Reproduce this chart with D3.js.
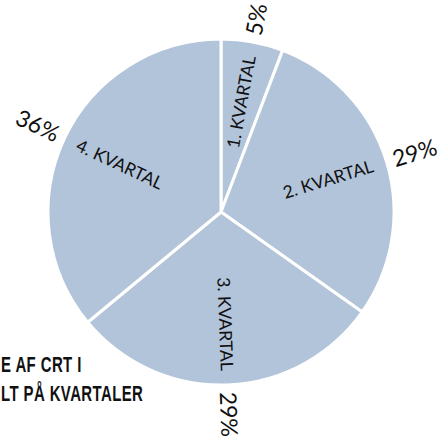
<!DOCTYPE html>
<html>
<head>
  <meta charset="utf-8">
  <script src="https://d3js.org/d3.v7.min.js"></script>
  <style>
    body { margin: 0; background: #fff; }
    svg { display: block; }
  </style>
</head>
<body>
  <div id="pie"></div>
<script>
  const quarters = ["1. KVARTAL", "2. KVARTAL", "3. KVARTAL", "4. KVARTAL"];
  const shares = [5.8, 29.0, 29.2, 36.0];
  const shareLabels = ["5%", "29%", "29%", "36%"];
  const titleLines = ["E AF CRT I", "LT PÅ KVARTALER"];

  const width = 445, height = 446;
  const cx = 221, cy = 212, radius = 173;

  const svg = d3.select("#pie")
    .append("svg")
    .attr("width", width)
    .attr("height", height);

  const g = svg.append("g")
    .attr("transform", `translate(${cx}, ${cy})`);

  const pie = d3.pie().sort(null).value(d => d.value);
  const data = pie(quarters.map((q, i) => ({ name: q, value: shares[i], label: shareLabels[i] })));

  const arc = d3.arc().innerRadius(0).outerRadius(radius);

  g.selectAll("path")
    .data(data)
    .enter()
    .append("path")
    .attr("d", arc)
    .attr("fill", "#b2c4d9")
    .attr("stroke", "#fff")
    .attr("stroke-width", 3)
    .attr("stroke-linejoin", "round");

  const midDeg = d => (d.startAngle + d.endAngle) / 2 * 180 / Math.PI;

  // radial text: rotate along the slice's middle, flip on the left side
  function place(d, r) {
    const a = (d.startAngle + d.endAngle) / 2;
    const deg = midDeg(d);
    const rot = deg > 180 ? deg - 270 : deg - 90;
    const x = Math.sin(a) * r, y = -Math.cos(a) * r;
    return `translate(${x}, ${y}) rotate(${rot})`;
  }

  g.selectAll(".cat")
    .data(data)
    .enter()
    .append("text")
    .attr("class", "cat")
    .attr("transform", d => place(d, 112))
    .attr("text-anchor", "middle")
    .attr("dy", "0.35em")
    .style("font-family", "Lato, 'Open Sans', sans-serif")
    .style("font-size", "17.5px")
    .style("fill", "#111")
    .text(d => d.data.name);

  // percentages start just outside the rim
  g.selectAll(".pct")
    .data(data)
    .enter()
    .append("text")
    .attr("class", "pct")
    .attr("transform", d => place(d, 180))
    .attr("text-anchor", d => midDeg(d) > 180 ? "end" : "start")
    .attr("dy", "0.35em")
    .style("font-family", "Lato, 'Open Sans', sans-serif")
    .style("font-size", "23px")
    .style("fill", "#111")
    .text(d => d.data.label);

  // condensed title, squeezed horizontally
  const title = svg.append("g")
    .attr("transform", "translate(1, 0) scale(0.68, 1)");

  title.selectAll(".title")
    .data(titleLines)
    .enter()
    .append("text")
    .attr("class", "title")
    .attr("x", 0)
    .attr("y", (d, i) => 372 + i * 29)
    .style("font-family", "'Liberation Sans', Arial, sans-serif")
    .style("font-weight", "bold")
    .style("font-size", "22px")
    .style("letter-spacing", "0.6px")
    .style("fill", "#111")
    .text(d => d);
</script>
</body>
</html>
